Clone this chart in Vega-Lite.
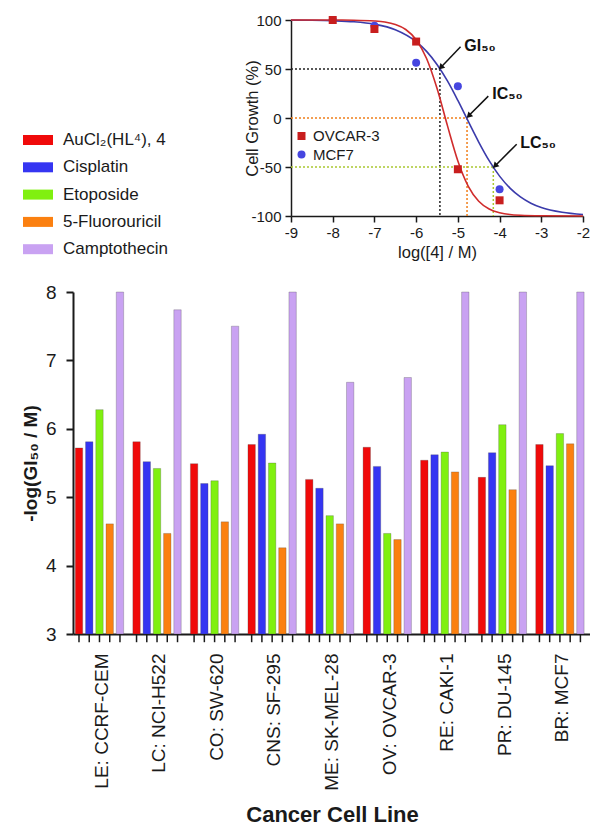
{
  "$schema": "https://vega.github.io/schema/vega-lite/v6.json",
  "background": "white",
  "padding": {"left": 21, "top": 13, "right": 0, "bottom": 0},
  "config": {
    "view": {"stroke": null},
    "font": "Liberation Sans",
    "axis": {"grid": false, "domainColor": "#1a1a1a", "tickColor": "#1a1a1a", "labelColor": "#1a1a1a", "titleColor": "#1a1a1a"},
    "legend": {"labelColor": "#1a1a1a", "padding": 0}
  },
  "spacing": 22,
  "vconcat": [
    {
      "spacing": 0,
      "hconcat": [
        {
          "width": 171, "height": 20,
          "data": {"values": [{"a": 1}]},
          "mark": {"type": "point", "opacity": 0},
          "encoding": {}
        },
        {
          "width": 292, "height": 196,
          "layer": [
            {
              "data": {"values": [
                {"ref": "GI50", "x": -9, "x2": -5.43, "y": 50, "y2": 50},
                {"ref": "GI50", "x": -5.43, "x2": -5.43, "y": 50, "y2": -100},
                {"ref": "IC50", "x": -9, "x2": -4.78, "y": 0, "y2": 0},
                {"ref": "IC50", "x": -4.78, "x2": -4.78, "y": 0, "y2": -100},
                {"ref": "LC50", "x": -9, "x2": -4.15, "y": -50, "y2": -50},
                {"ref": "LC50", "x": -4.15, "x2": -4.15, "y": -50, "y2": -100}
              ]},
              "mark": {"type": "rule", "strokeDash": [2, 2], "strokeWidth": 1.5},
              "encoding": {
                "x": {"field": "x", "type": "quantitative", "title": "log([4] / M)",
                  "scale": {"domain": [-9, -2], "nice": false, "zero": false},
                  "axis": {"values": [-9, -8, -7, -6, -5, -4, -3, -2], "labelExpr": "replace(datum.label, '−', '-')", "labelFontSize": 15, "titleFontSize": 16.5, "titleFontWeight": "normal", "tickSize": 6, "tickWidth": 1.5, "domainWidth": 1.5, "labelPadding": 3, "titlePadding": 4, "labelFlush": false}},
                "x2": {"field": "x2"},
                "y": {"field": "y", "type": "quantitative", "title": "Cell Growth (%)",
                  "scale": {"domain": [-100, 100], "nice": false, "zero": false},
                  "axis": {"values": [-100, -50, 0, 50, 100], "labelExpr": "replace(datum.label, '−', '-')", "labelFontSize": 15, "titleFontSize": 16.5, "titleFontWeight": "normal", "tickSize": 6, "tickWidth": 1.5, "domainWidth": 1.5, "labelPadding": 4, "titlePadding": -10, "labelFlush": false}},
                "y2": {"field": "y2"},
                "stroke": {"field": "ref", "type": "nominal",
                  "scale": {"domain": ["OVCAR-3", "MCF7", "GI50", "IC50", "LC50"], "range": ["#d02c2c", "#3b3bab", "#222222", "#f07f1a", "#aac830"]},
                  "legend": null}
              }
            },
            {
              "data": {"values": [
                {"series": "MCF7", "x": -9, "y": 99.9},
                {"series": "MCF7", "x": -8.5, "y": 99.7},
                {"series": "MCF7", "x": -8, "y": 99.2},
                {"series": "MCF7", "x": -7.5, "y": 98.2},
                {"series": "MCF7", "x": -7, "y": 95.7},
                {"series": "MCF7", "x": -6.5, "y": 90.1},
                {"series": "MCF7", "x": -6, "y": 77.9},
                {"series": "MCF7", "x": -5.75, "y": 68.0},
                {"series": "MCF7", "x": -5.5, "y": 54.6},
                {"series": "MCF7", "x": -5.25, "y": 37.8},
                {"series": "MCF7", "x": -5, "y": 17.9},
                {"series": "MCF7", "x": -4.75, "y": -3.5},
                {"series": "MCF7", "x": -4.5, "y": -24.5},
                {"series": "MCF7", "x": -4.25, "y": -43.5},
                {"series": "MCF7", "x": -4, "y": -59.3},
                {"series": "MCF7", "x": -3.75, "y": -71.5},
                {"series": "MCF7", "x": -3.5, "y": -80.5},
                {"series": "MCF7", "x": -3.25, "y": -86.9},
                {"series": "MCF7", "x": -3, "y": -91.3},
                {"series": "MCF7", "x": -2.5, "y": -96.2},
                {"series": "MCF7", "x": -2, "y": -98.4},
                {"series": "OVCAR-3", "x": -9, "y": 100},
                {"series": "OVCAR-3", "x": -8, "y": 100},
                {"series": "OVCAR-3", "x": -7.5, "y": 99.8},
                {"series": "OVCAR-3", "x": -7, "y": 99.0},
                {"series": "OVCAR-3", "x": -6.75, "y": 97.9},
                {"series": "OVCAR-3", "x": -6.5, "y": 95.4},
                {"series": "OVCAR-3", "x": -6.25, "y": 90.3},
                {"series": "OVCAR-3", "x": -6, "y": 79.9},
                {"series": "OVCAR-3", "x": -5.75, "y": 60.7},
                {"series": "OVCAR-3", "x": -5.5, "y": 30.3},
                {"series": "OVCAR-3", "x": -5.25, "y": -7.8},
                {"series": "OVCAR-3", "x": -5, "y": -43.8},
                {"series": "OVCAR-3", "x": -4.75, "y": -69.7},
                {"series": "OVCAR-3", "x": -4.5, "y": -84.9},
                {"series": "OVCAR-3", "x": -4.25, "y": -92.8},
                {"series": "OVCAR-3", "x": -4, "y": -96.6},
                {"series": "OVCAR-3", "x": -3.5, "y": -99.3},
                {"series": "OVCAR-3", "x": -3, "y": -99.8},
                {"series": "OVCAR-3", "x": -2, "y": -100}
              ]},
              "mark": {"type": "line", "interpolate": "monotone", "strokeWidth": 1.6},
              "encoding": {
                "x": {"field": "x", "type": "quantitative", "title": "log([4] / M)"},
                "y": {"field": "y", "type": "quantitative", "title": "Cell Growth (%)"},
                "stroke": {"field": "series", "type": "nominal", "legend": null}
              }
            },
            {
              "data": {"values": [
                {"series": "MCF7", "x": -8, "y": 100},
                {"series": "MCF7", "x": -7, "y": 94.2},
                {"series": "MCF7", "x": -6, "y": 56.4},
                {"series": "MCF7", "x": -5, "y": 32.5},
                {"series": "MCF7", "x": -4, "y": -72.7},
                {"series": "OVCAR-3", "x": -8, "y": 100},
                {"series": "OVCAR-3", "x": -7, "y": 90.8},
                {"series": "OVCAR-3", "x": -6, "y": 78},
                {"series": "OVCAR-3", "x": -5, "y": -52.3},
                {"series": "OVCAR-3", "x": -4, "y": -84}
              ]},
              "mark": {"type": "point", "filled": true, "size": 64, "opacity": 1},
              "encoding": {
                "x": {"field": "x", "type": "quantitative", "title": "log([4] / M)"},
                "y": {"field": "y", "type": "quantitative", "title": "Cell Growth (%)"},
                "fill": {"field": "series", "type": "nominal",
                  "scale": {"domain": ["OVCAR-3", "MCF7"], "range": ["#c81e1e", "#4646e0"]},
                  "legend": {"orient": "none", "legendX": 221, "legendY": 108.5, "title": null, "labelFontSize": 15, "symbolSize": 64, "labelOffset": 4, "rowPadding": 2.5}},
                "shape": {"field": "series", "type": "nominal",
                  "scale": {"domain": ["OVCAR-3", "MCF7"], "range": ["square", "circle"]},
                  "legend": {"orient": "none", "legendX": 221, "legendY": 108.5, "title": null, "labelFontSize": 15, "symbolSize": 64, "labelOffset": 4, "rowPadding": 2.5}},
                "order": {"field": "series", "sort": "ascending"}
              }
            },
            {
              "data": {"values": [
                {"lab": "GI₅₀", "tx": -4.895, "ty": 73.7, "ax": -4.935, "ay": 72.7, "hx": -5.41, "hy": 51.6},
                {"lab": "IC₅₀", "tx": -4.225, "ty": 24.4, "ax": -4.27, "ay": 22.3, "hx": -4.74, "hy": 2.2},
                {"lab": "LC₅₀", "tx": -3.555, "ty": -25, "ax": -3.59, "ay": -26.7, "hx": -4.11, "hy": -48.9}
              ]},
              "layer": [
                {
                  "mark": {"type": "rule", "strokeWidth": 1.5, "color": "#111"},
                  "encoding": {
                    "x": {"field": "ax", "type": "quantitative", "title": "log([4] / M)"},
                    "y": {"field": "ay", "type": "quantitative", "title": "Cell Growth (%)"},
                    "x2": {"field": "hx"},
                    "y2": {"field": "hy"}
                  }
                },
                {
                  "mark": {"type": "point", "shape": "triangle-up", "angle": 225, "filled": true, "color": "#111", "size": 45, "opacity": 1},
                  "encoding": {
                    "x": {"field": "hx", "type": "quantitative", "title": "log([4] / M)"},
                    "y": {"field": "hy", "type": "quantitative", "title": "Cell Growth (%)"}
                  }
                },
                {
                  "mark": {"type": "text", "align": "left", "baseline": "middle", "fontWeight": "bold", "fontSize": 16, "font": "Liberation Sans", "color": "#111", "dx": 2},
                  "encoding": {
                    "x": {"field": "tx", "type": "quantitative", "title": "log([4] / M)"},
                    "y": {"field": "ty", "type": "quantitative", "title": "Cell Growth (%)"},
                    "text": {"field": "lab"}
                  }
                }
              ]
            }
          ]
        }
      ]
    },
    {
      "width": 518, "height": 342,
      "data": {"values": [
        {"line": "LE: CCRF-CEM", "drug": "AuCl₂(HL⁴), 4", "v": 5.72},
        {"line": "LE: CCRF-CEM", "drug": "Cisplatin", "v": 5.81},
        {"line": "LE: CCRF-CEM", "drug": "Etoposide", "v": 6.28},
        {"line": "LE: CCRF-CEM", "drug": "5-Fluorouricil", "v": 4.61},
        {"line": "LE: CCRF-CEM", "drug": "Camptothecin", "v": 8.0},
        {"line": "LC: NCI-H522", "drug": "AuCl₂(HL⁴), 4", "v": 5.81},
        {"line": "LC: NCI-H522", "drug": "Cisplatin", "v": 5.52},
        {"line": "LC: NCI-H522", "drug": "Etoposide", "v": 5.42},
        {"line": "LC: NCI-H522", "drug": "5-Fluorouricil", "v": 4.47},
        {"line": "LC: NCI-H522", "drug": "Camptothecin", "v": 7.74},
        {"line": "CO: SW-620", "drug": "AuCl₂(HL⁴), 4", "v": 5.49},
        {"line": "CO: SW-620", "drug": "Cisplatin", "v": 5.20},
        {"line": "CO: SW-620", "drug": "Etoposide", "v": 5.24},
        {"line": "CO: SW-620", "drug": "5-Fluorouricil", "v": 4.64},
        {"line": "CO: SW-620", "drug": "Camptothecin", "v": 7.50},
        {"line": "CNS: SF-295", "drug": "AuCl₂(HL⁴), 4", "v": 5.77},
        {"line": "CNS: SF-295", "drug": "Cisplatin", "v": 5.92},
        {"line": "CNS: SF-295", "drug": "Etoposide", "v": 5.50},
        {"line": "CNS: SF-295", "drug": "5-Fluorouricil", "v": 4.26},
        {"line": "CNS: SF-295", "drug": "Camptothecin", "v": 8.0},
        {"line": "ME: SK-MEL-28", "drug": "AuCl₂(HL⁴), 4", "v": 5.26},
        {"line": "ME: SK-MEL-28", "drug": "Cisplatin", "v": 5.13},
        {"line": "ME: SK-MEL-28", "drug": "Etoposide", "v": 4.73},
        {"line": "ME: SK-MEL-28", "drug": "5-Fluorouricil", "v": 4.61},
        {"line": "ME: SK-MEL-28", "drug": "Camptothecin", "v": 6.68},
        {"line": "OV: OVCAR-3", "drug": "AuCl₂(HL⁴), 4", "v": 5.73},
        {"line": "OV: OVCAR-3", "drug": "Cisplatin", "v": 5.45},
        {"line": "OV: OVCAR-3", "drug": "Etoposide", "v": 4.47},
        {"line": "OV: OVCAR-3", "drug": "5-Fluorouricil", "v": 4.38},
        {"line": "OV: OVCAR-3", "drug": "Camptothecin", "v": 6.75},
        {"line": "RE: CAKI-1", "drug": "AuCl₂(HL⁴), 4", "v": 5.54},
        {"line": "RE: CAKI-1", "drug": "Cisplatin", "v": 5.62},
        {"line": "RE: CAKI-1", "drug": "Etoposide", "v": 5.66},
        {"line": "RE: CAKI-1", "drug": "5-Fluorouricil", "v": 5.37},
        {"line": "RE: CAKI-1", "drug": "Camptothecin", "v": 8.0},
        {"line": "PR: DU-145", "drug": "AuCl₂(HL⁴), 4", "v": 5.29},
        {"line": "PR: DU-145", "drug": "Cisplatin", "v": 5.65},
        {"line": "PR: DU-145", "drug": "Etoposide", "v": 6.06},
        {"line": "PR: DU-145", "drug": "5-Fluorouricil", "v": 5.11},
        {"line": "PR: DU-145", "drug": "Camptothecin", "v": 8.0},
        {"line": "BR: MCF7", "drug": "AuCl₂(HL⁴), 4", "v": 5.77},
        {"line": "BR: MCF7", "drug": "Cisplatin", "v": 5.46},
        {"line": "BR: MCF7", "drug": "Etoposide", "v": 5.93},
        {"line": "BR: MCF7", "drug": "5-Fluorouricil", "v": 5.78},
        {"line": "BR: MCF7", "drug": "Camptothecin", "v": 8.0}
      ]},
      "layer": [
        {
          "mark": {"type": "bar", "stroke": "#444", "strokeOpacity": 0.35, "strokeWidth": 0.8},
          "encoding": {
            "x": {"field": "line", "type": "nominal", "title": "Cancer Cell Line",
              "sort": ["LE: CCRF-CEM", "LC: NCI-H522", "CO: SW-620", "CNS: SF-295", "ME: SK-MEL-28", "OV: OVCAR-3", "RE: CAKI-1", "PR: DU-145", "BR: MCF7"],
              "scale": {"paddingInner": 0, "paddingOuter": 0},
              "axis": {"labelAngle": -90, "labelAlign": "right", "labelBaseline": "middle", "labelFontSize": 19, "ticks": false, "tickSize": 0, "labelPadding": 19, "domainWidth": 2, "titleFontSize": 22, "titleFontWeight": "bold", "titlePadding": 14, "labelLimit": 0}},
            "xOffset": {"field": "drug", "type": "nominal",
              "scale": {"domain": ["AuCl₂(HL⁴), 4", "Cisplatin", "Etoposide", "5-Fluorouricil", "Camptothecin"], "paddingInner": 0.278, "paddingOuter": 0.449, "align": 0.25}},
            "y": {"field": "v", "type": "quantitative", "title": "-log(GI₅₀ / M)",
              "scale": {"domain": [3, 8], "nice": false, "zero": false},
              "axis": {"values": [3, 4, 5, 6, 7, 8], "format": "d", "labelFontSize": 19, "tickSize": 7, "tickWidth": 2, "domainWidth": 2, "labelPadding": 10, "titleFontSize": 19, "titleFontWeight": "bold", "titlePadding": 5}},
            "y2": {"datum": 3},
            "color": {"field": "drug", "type": "nominal",
              "scale": {"domain": ["AuCl₂(HL⁴), 4", "Cisplatin", "Etoposide", "5-Fluorouricil", "Camptothecin"], "range": ["#f00a0a", "#3535f2", "#80f010", "#fb8010", "#c9a2f2"]},
              "legend": {"orient": "none", "legendX": -45, "legendY": 110, "title": null, "symbolType": "M-1.5,-0.5H1.5V0.5H-1.5Z", "symbolSize": 400, "symbolStrokeWidth": 0, "labelFontSize": 17, "labelOffset": 15, "rowPadding": 9.3}}
          }
        },
        {
          "mark": {"type": "rule", "xOffset": -5, "strokeWidth": 1.5, "color": "#1a1a1a"},
          "encoding": {
            "x": {"field": "line", "type": "nominal", "title": "Cancer Cell Line",
              "sort": ["LE: CCRF-CEM", "LC: NCI-H522", "CO: SW-620", "CNS: SF-295", "ME: SK-MEL-28", "OV: OVCAR-3", "RE: CAKI-1", "PR: DU-145", "BR: MCF7"]},
            "xOffset": {"field": "drug", "type": "nominal"},
            "y": {"datum": 3, "type": "quantitative", "title": "-log(GI₅₀ / M)"},
            "y2": {"datum": 2.88}
          }
        }
      ]
    }
  ]
}
